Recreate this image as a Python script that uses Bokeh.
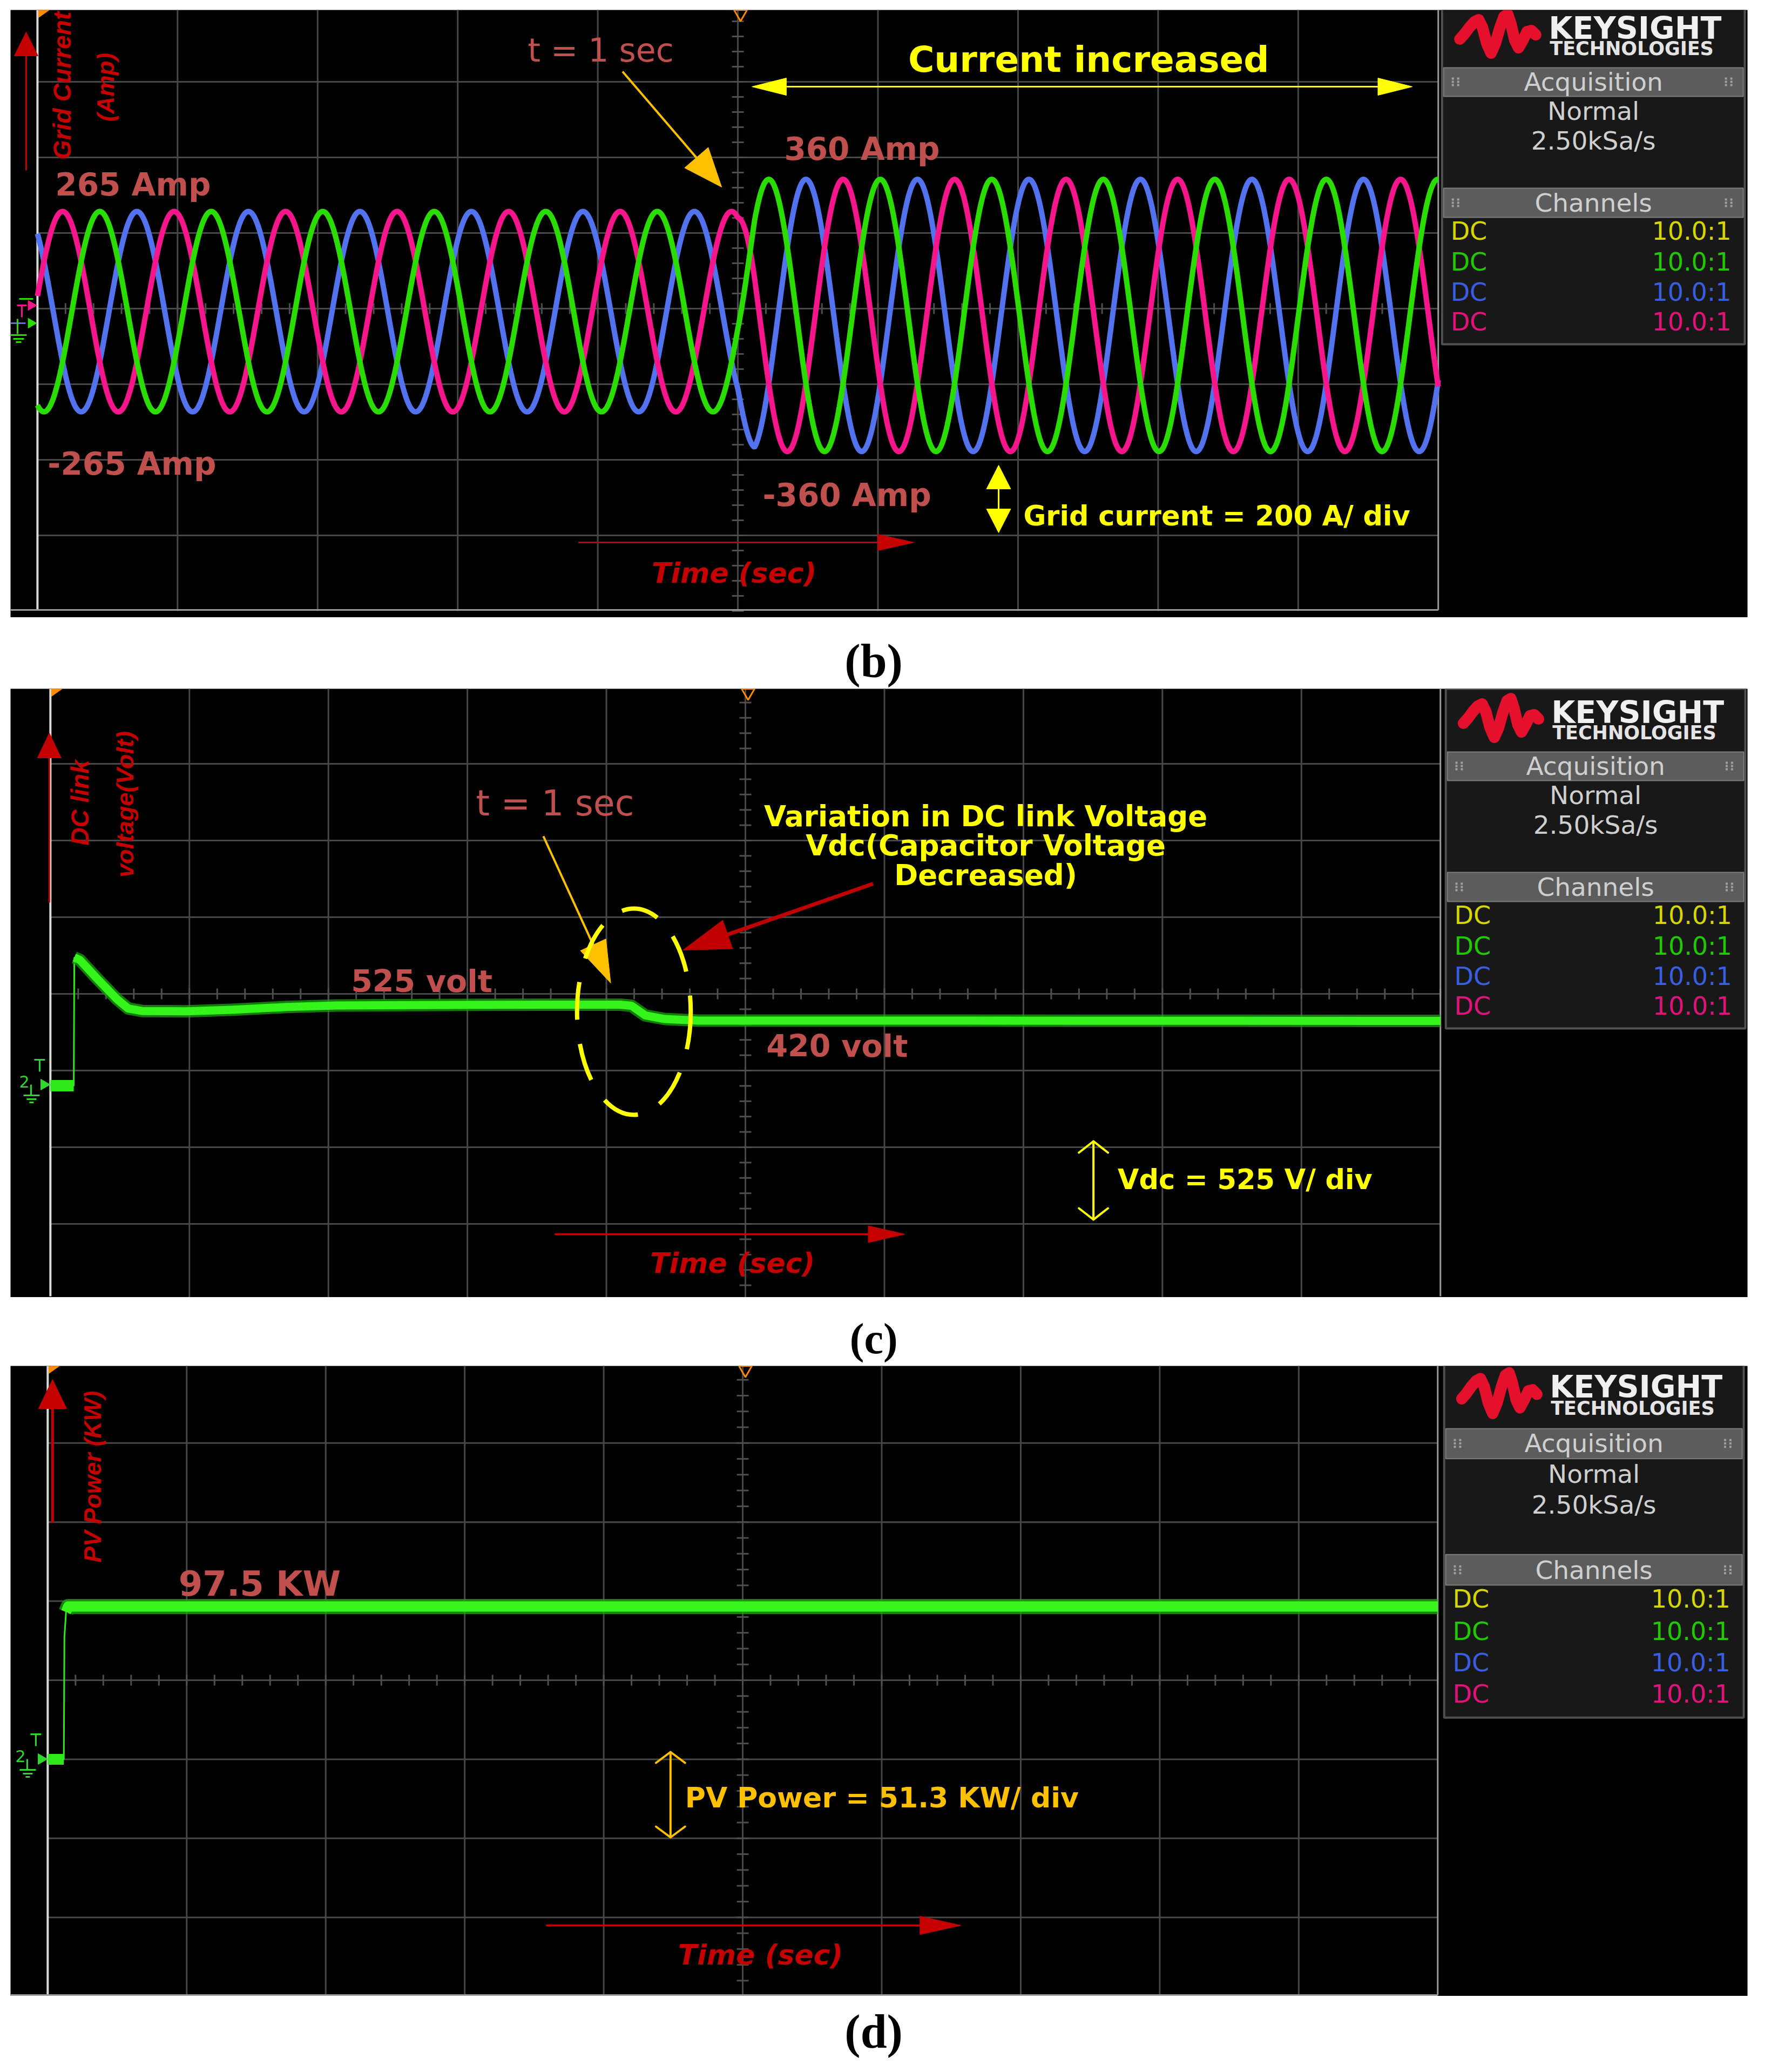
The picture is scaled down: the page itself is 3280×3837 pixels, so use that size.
import numpy as np
from bokeh.plotting import figure
from bokeh.layouts import column
from bokeh.models import Range1d
from bokeh.core.properties import value
from bokeh.embed import file_html
from bokeh.resources import INLINE

# ============================ DATA ============================
# (b) three-phase grid current, A
current_phases = ["magenta", "green", "blue"]
current_phase_lag_cycles = [0.0, 1 / 3, 2 / 3]
current_amplitude_A = [265, 360]          # before / after t = 1 s
current_offset_A = [-8, -18]              # small dc offset seen on the traces
current_period_s = 0.0199                 # ~0.796 div per cycle at 25 ms/div
current_peak_time_s = 0.99888             # a positive peak of the magenta phase
current_step_time_s = 1.0
current_step_ramp_s = 0.003

# (c) DC link voltage, V
vdc_time_s = [-0.025, 0.017, 0.018, 0.028, 0.06, 0.095, 0.115, 0.14, 0.22, 0.30,
              0.40, 0.49, 0.75, 1.00, 1.02, 1.045, 1.08, 1.14, 2.475]
vdc_volt = [0, 0, 831, 815, 690, 560, 500, 484, 482, 492,
            510, 520, 524, 525, 518, 455, 432, 422, 420]

# (d) PV power, kW
pv_time_s = [-0.025, 0.004, 0.005, 0.008, 0.012, 0.028, 2.475]
pv_kw = [0, 0, 78, 94, 97.5, 97.5, 97.5]

# scope side-panel read-outs
acq_mode = ["Normal", "2.50kSa/s"]
chan_coupling = ["DC", "DC", "DC", "DC"]
chan_probe = ["10.0:1", "10.0:1", "10.0:1", "10.0:1"]
chan_colors = ["#d6d600", "#22c800", "#3a5ee0", "#e0137a"]

# ============================ LAYOUT HELPERS ============================
W = 3264
PL = 8
GRID = "#474747"
SCALE_TXT = "#c0504d"
AXIS_RED = "#c40000"
YEL = "#ffff00"
AMBER = "#ffc000"
ORANGE = "#ff8c00"


class Scope:
    def __init__(self, top, frame, grat, tc, sdiv, vdiv, zero_div):
        self.fx0, self.fy0, self.fx1, self.fy1 = frame
        self.gx0, self.gx1, self.gcy, self.pydiv = grat
        self.pxdiv = (self.gx1 - self.gx0) / 10.0
        self.gcx = (self.gx0 + self.gx1) / 2.0
        self.tc, self.sdiv, self.vdiv, self.zd = tc, sdiv, vdiv, zero_div
        self.p = figure(width=W, height=self.fy1 - top,
                        x_range=Range1d(self.X(self.fx0), self.X(self.fx1)),
                        y_range=Range1d(self.Y(self.fy1), self.Y(self.fy0)),
                        x_axis_type=None, y_axis_type=None, title=None,
                        toolbar_location=None, output_backend="svg",
                        min_border=0, min_border_left=self.fx0 - PL,
                        min_border_right=PL + W - self.fx1,
                        min_border_top=self.fy0 - top, min_border_bottom=0,
                        background_fill_color="black", border_fill_color="white",
                        outline_line_color=None)

    def X(self, px):
        if np.ndim(px):
            return [self.X(v) for v in px]
        return float(self.tc + (px - self.gcx) / self.pxdiv * self.sdiv)

    def Y(self, py):
        if np.ndim(py):
            return [self.Y(v) for v in py]
        return float(((self.gcy - py) / self.pydiv - self.zd) * self.vdiv)

    def divx(self, k):
        return float(self.tc + k * self.sdiv)

    def divy(self, k):
        return float((k - self.zd) * self.vdiv)


def graticule(P, bottom_line=True):
    p = P.p
    gy_top = P.gcy - 4 * P.pydiv
    gy_bot = P.gcy + 4 * P.pydiv
    kx = list(range(-4, 5))
    p.segment(x0=[P.divx(k) for k in kx], y0=[P.Y(gy_bot)] * len(kx),
              x1=[P.divx(k) for k in kx], y1=[P.Y(gy_top)] * len(kx),
              line_color=GRID, line_width=3)
    ky = list(range(-3, 4))
    p.segment(x0=[P.divx(-5)] * len(ky), y0=[P.divy(k) for k in ky],
              x1=[P.divx(5)] * len(ky), y1=[P.divy(k) for k in ky],
              line_color=GRID, line_width=3)
    # minor graduation on the centre lines
    mv = [i * 0.2 for i in range(-20, 21)]
    hx = 11 / P.pxdiv * P.sdiv
    p.segment(x0=[P.tc - hx] * len(mv), y0=[P.divy(k) for k in mv],
              x1=[P.tc + hx] * len(mv), y1=[P.divy(k) for k in mv],
              line_color="#4e4e4e", line_width=3)
    mh = [i * 0.2 for i in range(-25, 26)]
    hy = 10 / P.pydiv * P.vdiv
    p.segment(x0=[P.divx(k) for k in mh], y0=[P.divy(0) - hy] * len(mh),
              x1=[P.divx(k) for k in mh], y1=[P.divy(0) + hy] * len(mh),
              line_color="#4e4e4e", line_width=3)
    # frame edges
    ybot = min(gy_bot, P.fy1) - 2
    p.line([P.X(P.gx0)] * 2, [P.Y(P.fy0), P.Y(ybot)], line_color="#dadada", line_width=4)
    p.line([P.X(P.gx1)] * 2, [P.Y(P.fy0), P.Y(ybot)], line_color="#9a9a9a", line_width=3)
    if bottom_line:
        p.line([P.X(P.fx0), P.X(P.gx1)], [P.Y(ybot)] * 2, line_color="#9a9a9a", line_width=3)
    # orange markers at the top
    p.patch([P.X(P.gx0 + 2), P.X(P.gx0 + 22), P.X(P.gx0 + 2)],
            [P.Y(P.fy0), P.Y(P.fy0), P.Y(P.fy0 + 14)], fill_color=ORANGE, line_color=ORANGE)
    p.scatter([P.X(P.gcx + 5)], [P.Y(P.fy0 + 7)], marker="inverted_triangle", size=24,
              fill_color=None, line_color=ORANGE, line_width=3)


def text(P, px, py, s, size, color, style="bold", font="DejaVu Sans", align="left", angle=0.0):
    P.p.text(x=[P.X(px)], y=[P.Y(py)], text=[s], text_font=value(font),
             text_font_size=f"{size}px", text_font_style=style, text_color=color,
             text_align=align, text_baseline="middle", angle=angle)


def filled_arrow(P, x0, y0, x1, y1, color, lw, hl, hw, double=False):
    a = np.array([x0, y0], float)
    b = np.array([x1, y1], float)
    u = (b - a) / np.hypot(*(b - a))
    n = np.array([-u[1], u[0]])
    s0 = a + u * hl * 0.8 if double else a
    s1 = b - u * hl * 0.8
    P.p.line(P.X([s0[0], s1[0]]), P.Y([s0[1], s1[1]]), line_color=color, line_width=lw)
    heads = [(b, u)] + ([(a, -u)] if double else [])
    xs, ys = [], []
    for tip, d in heads:
        base = tip - d * hl
        c1, c2 = base + n * hw / 2, base - n * hw / 2
        xs.append(P.X([tip[0], c1[0], c2[0]]))
        ys.append(P.Y([tip[1], c1[1], c2[1]]))
    P.p.patches(xs, ys, fill_color=color, line_color=color, line_width=1)


def open_vertical_arrow(P, x, y0, y1, color, lw, hd, hw):
    xs = [P.X([x, x]), P.X([x - hw, x, x + hw]), P.X([x - hw, x, x + hw])]
    ys = [P.Y([y0, y1]), P.Y([y0 + hd, y0, y0 + hd]), P.Y([y1 - hd, y1, y1 - hd])]
    P.p.multi_line(xs, ys, line_color=color, line_width=lw, line_join="round", line_cap="round")


def side_panel(P, bx0, bw, y0, sy):
    p = P.p
    sx = bw / 562.0

    def xr(r):
        return P.X(bx0 + r * sx)

    def yr(r):
        return P.Y(y0 + r * sy)

    p.quad(left=[xr(0)], right=[xr(562)], top=[yr(0)], bottom=[yr(629)],
           fill_color="#181818", line_color="#505050", line_width=4)
    p.quad(left=[xr(3)] * 2, right=[xr(559)] * 2, top=[yr(117), yr(340)],
           bottom=[yr(170), yr(394)], fill_color="#5c5c5c", line_color="#7c7c7c", line_width=2)
    # logo wave
    lx = [33, 42, 51, 60, 68, 75, 83, 91, 99, 107, 115, 122, 128, 135, 142, 150, 158, 166, 174]
    ly = [64, 54, 42, 32, 28, 42, 72, 90, 72, 44, 22, 18, 36, 66, 80, 66, 50, 48, 56]
    p.line([xr(v) for v in lx], [yr(v) for v in ly], line_color="#e5102c", line_width=21,
           line_join="round", line_cap="round")
    p.text(x=[xr(198)], y=[yr(43)], text=["KEYSIGHT"], text_font=value("DejaVu Sans"),
           text_font_size="57px", text_font_style="bold", text_color="#f0f0f0",
           text_baseline="middle", text_align="left")
    p.text(x=[xr(200)], y=[yr(81)], text=["TECHNOLOGIES"], text_font=value("DejaVu Sans"),
           text_font_size="35px", text_font_style="bold", text_color="#e4e4e4",
           text_baseline="middle", text_align="left")
    heads = ["Acquisition", acq_mode[0], acq_mode[1], "Channels"]
    hy = [143, 197, 252, 367]
    p.text(x=[xr(281)] * 4, y=[yr(v) for v in hy], text=heads, text_font=value("DejaVu Sans"),
           text_font_size="47px", text_color="#cfcfcf", text_baseline="middle", text_align="center")
    # grip dots
    gx, gy = [], []
    for cy in (143, 367):
        for cx in (20, 30, 527, 537):
            for dy in (-6, 0, 6):
                gx.append(xr(cx))
                gy.append(yr(cy + dy))
    p.scatter(gx, gy, marker="square", size=4, fill_color="#a0a0a0", line_color=None)
    ry = [419, 476, 532, 587]
    p.text(x=[xr(16)] * 4, y=[yr(v) for v in ry], text=chan_coupling,
           text_font=value("DejaVu Sans"), text_font_size="46px", text_color=chan_colors,
           text_baseline="middle", text_align="left")
    p.text(x=[xr(537)] * 4, y=[yr(v) for v in ry], text=chan_probe,
           text_font=value("DejaVu Sans"), text_font_size="46px", text_color=chan_colors,
           text_baseline="middle", text_align="right")


def ground_marker(P, cy, with_two=True):
    p = P.p
    g = "#2fd82f"
    if with_two:
        text(P, 36, cy - 6, "2", 30, g, style="normal")
    p.segment(x0=P.X([64, 74]), y0=P.Y([cy - 46, cy - 46]), x1=P.X([84, 74]),
              y1=P.Y([cy - 46, cy - 24]), line_color=g, line_width=3)
    p.scatter([P.X(P.gx0 - 12)], [P.Y(cy)], marker="triangle", angle=-np.pi / 2, size=20,
              fill_color=g, line_color=g)
    p.segment(x0=P.X([58, 44, 50, 55]), y0=P.Y([cy, cy + 20, cy + 27, cy + 33]),
              x1=P.X([58, 74, 68, 63]), y1=P.Y([cy + 20, cy + 20, cy + 27, cy + 33]),
              line_color=g, line_width=3)


def caption(label, top, bottom, cy, size):
    p = figure(width=W, height=bottom - top, x_range=Range1d(PL, PL + W),
               y_range=Range1d(bottom, top), x_axis_type=None, y_axis_type=None, title=None,
               toolbar_location=None, output_backend="svg", min_border=0,
               background_fill_color="white", border_fill_color="white", outline_line_color=None)
    p.text(x=[1630], y=[cy], text=[label], text_font=value("Liberation Serif"),
           text_font_style="bold", text_font_size=f"{size}px", text_align="center",
           text_baseline="middle", text_color="black")
    return p


# ============================ PANEL (b) ============================
Pb = Scope(top=0, frame=(20, 18, 3244, 1143), grat=(70, 2670, 571, 140.0),
           tc=1.0, sdiv=0.025, vdiv=200.0, zero_div=0.0)
graticule(Pb)
t = np.linspace(Pb.divx(-5), Pb.divx(5), 6000)
frac = np.clip((t - current_step_time_s) / current_step_ramp_s, 0, 1)
amp = current_amplitude_A[0] + (current_amplitude_A[1] - current_amplitude_A[0]) * frac
off = current_offset_A[0] + (current_offset_A[1] - current_offset_A[0]) * frac
phase_color = {"magenta": "#f5168c", "green": "#2bdc00", "blue": "#5272ee"}
waves = {}
for name, lag in zip(current_phases, current_phase_lag_cycles):
    waves[name] = off + amp * np.cos(2 * np.pi * (t - current_peak_time_s - lag * current_period_s)
                                     / current_period_s)
for name in ["blue", "magenta", "green"]:
    Pb.p.line(t, waves[name], line_color=phase_color[name], line_width=10)

# left strip channel markers
pb = Pb.p
pb.scatter([Pb.X(58), Pb.X(58)], [Pb.Y(565), Pb.Y(598)], marker="triangle", angle=-np.pi / 2,
           size=20, fill_color=["#f5168c", "#2bdc00"], line_color=None)
pb.segment(x0=Pb.X([32, 41, 36, 20, 33, 20, 25, 30]), y0=Pb.Y([565, 565, 553, 598, 590, 620, 627, 633]),
           x1=Pb.X([50, 41, 62, 48, 33, 50, 45, 40]), y1=Pb.Y([565, 587, 553, 598, 618, 620, 627, 633]),
           line_color=["#f5168c", "#f5168c", "#2bdc00", "#5272ee", "#2bdc00", "#2bdc00", "#2bdc00", "#2bdc00"],
           line_width=3)

filled_arrow(Pb, 49, 315, 49, 59, AXIS_RED, 3, 44, 44)
text(Pb, 116, 158, "Grid Current", 46, AXIS_RED, style="bold italic", font="Liberation Sans", align="center", angle=np.pi / 2)
text(Pb, 196, 161, "(Amp)", 44, AXIS_RED, style="bold italic", font="Liberation Sans", align="center", angle=np.pi / 2)
text(Pb, 103, 341, "265 Amp", 58, SCALE_TXT)
text(Pb, 89, 858, "-265 Amp", 58, SCALE_TXT)
text(Pb, 980, 92, "t = 1 sec", 60, SCALE_TXT, style="normal")
filled_arrow(Pb, 1156, 132, 1340, 346, AMBER, 4, 72, 58)
text(Pb, 1686, 110, "Current increased", 66, YEL)
filled_arrow(Pb, 1396, 160, 2622, 160, YEL, 3, 64, 32, double=True)
text(Pb, 1456, 275, "360 Amp", 58, SCALE_TXT)
text(Pb, 1416, 916, "-360 Amp", 58, SCALE_TXT)
filled_arrow(Pb, 1854, 861, 1854, 986, YEL, 3, 44, 45, double=True)
text(Pb, 1900, 955, "Grid current = 200 A/ div", 51, YEL)
filled_arrow(Pb, 1074, 1004, 1697, 1004, AXIS_RED, 3, 67, 30)
text(Pb, 1210, 1060, "Time (sec)", 52, AXIS_RED, style="bold italic")
side_panel(Pb, 2677, 562, 8, 1.0)

# ============================ PANEL (c) ============================
Pc = Scope(top=1275, frame=(20, 1275, 3244, 2402), grat=(94, 2674, 1840, 142.0),
           tc=1.225, sdiv=0.25, vdiv=497.0, zero_div=-1.197)
graticule(Pc, bottom_line=False)
pc = Pc.p
pc.line(vdc_time_s, vdc_volt, line_color="#2ee81a", line_width=3)
pc.line(vdc_time_s[:2], vdc_volt[:2], line_color="#2ee81a", line_width=21)
pc.line(vdc_time_s[2:], vdc_volt[2:], line_color="#1aa50c", line_width=23, line_alpha=0.75,
        line_join="round")
pc.line(vdc_time_s[2:], vdc_volt[2:], line_color="#35f41c", line_width=15, line_join="round")
ground_marker(Pc, 2008)
filled_arrow(Pc, 92, 1671, 92, 1357, AXIS_RED, 3, 46, 44)
text(Pc, 149, 1486, "DC link", 46, AXIS_RED, style="bold italic", font="Liberation Sans", align="center", angle=np.pi / 2)
text(Pc, 232, 1489, "voltage(Volt)", 45, AXIS_RED, style="bold italic", font="Liberation Sans", align="center", angle=np.pi / 2)
text(Pc, 884, 1487, "t = 1 sec", 65, SCALE_TXT, style="normal")
filled_arrow(Pc, 1009, 1548, 1134, 1820, AMBER, 4, 78, 52)
text(Pc, 652, 1816, "525 volt", 57, SCALE_TXT)
pc.ellipse(x=[Pc.X(1177)], y=[Pc.Y(1873)], width=[211 / Pc.pxdiv * Pc.sdiv],
           height=[382 / Pc.pydiv * Pc.vdiv], fill_color=None, line_color=YEL,
           line_width=8, line_dash="70 45")
filled_arrow(Pc, 1621, 1636, 1268, 1759, "#c00000", 7, 88, 56)
text(Pc, 1830, 1511, "Variation in DC link Voltage", 53, YEL, align="center")
text(Pc, 1830, 1565, "Vdc(Capacitor Voltage", 53, YEL, align="center")
text(Pc, 1830, 1620, "Decreased)", 53, YEL, align="center")
text(Pc, 1423, 1936, "420 volt", 57, SCALE_TXT)
open_vertical_arrow(Pc, 2030, 2113, 2258, YEL, 4, 21, 27)
text(Pc, 2075, 2184, "Vdc = 525 V/ div", 51, YEL)
filled_arrow(Pc, 1030, 2285, 1680, 2285, AXIS_RED, 3, 68, 31)
text(Pc, 1207, 2338, "Time (sec)", 52, AXIS_RED, style="bold italic")
side_panel(Pc, 2684, 556, 1275, 1.0)

# ============================ PANEL (d) ============================
Pd = Scope(top=2529, frame=(27, 2529, 3251, 3696), grat=(96, 2676, 3111, 146.4),
           tc=1.225, sdiv=0.25, vdiv=50.44, zero_div=-1.0)
graticule(Pd)
pd_ = Pd.p
pd_.line(pv_time_s, pv_kw, line_color="#2ee81a", line_width=3)
pd_.line(pv_time_s[:2], pv_kw[:2], line_color="#2ee81a", line_width=20)
pd_.line(pv_time_s[3:], pv_kw[3:], line_color="#1aa50c", line_width=28, line_alpha=0.8,
         line_join="round")
pd_.line(pv_time_s[3:], pv_kw[3:], line_color="#38f61e", line_width=19, line_join="round")
ground_marker(Pd, 3257)
filled_arrow(Pd, 105, 2819, 105, 2554, AXIS_RED, 5, 54, 52)
text(Pd, 179, 2734, "PV Power (KW)", 44, AXIS_RED, style="bold italic", font="Liberation Sans", align="center", angle=np.pi / 2)
text(Pd, 339, 2932, "97.5 KW", 64, SCALE_TXT)
open_vertical_arrow(Pd, 1252, 3244, 3402, AMBER, 4, 20, 27)
text(Pd, 1279, 3328, "PV Power = 51.3 KW/ div", 52, AMBER)
filled_arrow(Pd, 1021, 3565, 1791, 3565, AXIS_RED, 3, 76, 34)
text(Pd, 1266, 3619, "Time (sec)", 52, AXIS_RED, style="bold italic")
side_panel(Pd, 2688, 556, 2523, 1.045)

# ============================ CAPTIONS & PAGE ============================
cap_b = caption("(b)", 1143, 1275, 1224, 88)
cap_c = caption("(c)", 2402, 2529, 2478, 80)
cap_d = caption("(d)", 3696, 3829, 3762, 88)

page = column(Pb.p, cap_b, Pc.p, cap_c, Pd.p, cap_d, spacing=0)
open("out.html", "w").write(file_html(page, INLINE))
